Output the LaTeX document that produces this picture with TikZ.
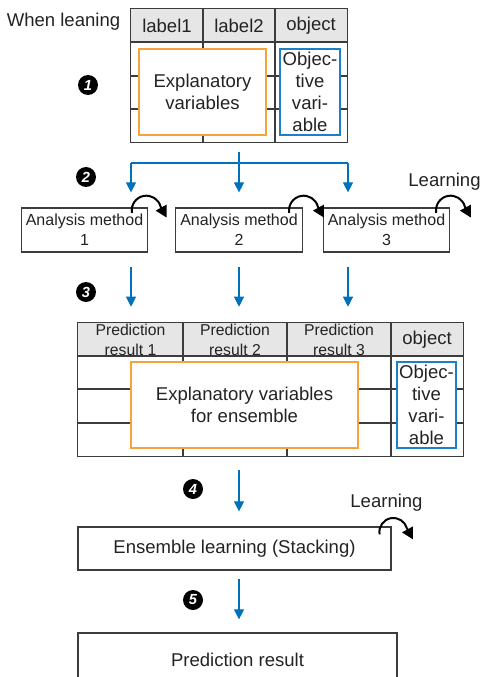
\documentclass[tikz,border=0pt]{standalone}
\usepackage{fontspec}
\setmainfont{Liberation Sans}
\usepackage{tikz}
\usetikzlibrary{arrows.meta, positioning, calc}
\definecolor{flowblue}{RGB}{0,114,188}
\definecolor{exporange}{RGB}{247,163,58}
\definecolor{objblue}{RGB}{28,128,200}
\definecolor{hdrgray}{RGB}{230,230,230}
\definecolor{linegray}{RGB}{60,60,60}
\definecolor{txtdark}{RGB}{35,35,35}
\tikzset{
  cell/.style={draw=linegray, line width=0.9pt},
  hdrtext/.style={font=\fontsize{13.9}{16.3}\selectfont, text=txtdark, inner sep=0pt},
  predtext/.style={font=\fontsize{11.8}{15}\selectfont, text=txtdark,
    align=center, inner sep=0pt},
  expbox/.style={rectangle, draw=exporange, fill=white, line width=1.1pt,
    align=center, font=\fontsize{13.9}{16.3}\selectfont, text=txtdark},
  objbox/.style={rectangle, draw=objblue, fill=white, line width=0.9pt,
    align=center, inner sep=0pt, font=\fontsize{13.9}{16.5}\selectfont, text=txtdark},
  method/.style={rectangle, draw=linegray, fill=white, line width=0.9pt,
    align=center, minimum width=94.5pt, minimum height=33pt,
    font=\fontsize{12}{15}\selectfont, text=txtdark},
  widebox/.style={rectangle, draw=linegray, line width=0.9pt, align=center,
    font=\fontsize{13.9}{16.3}\selectfont, text=txtdark},
  stepnum/.style={circle, fill=black, text=white, inner sep=0pt,
    minimum size=15pt, font=\fontsize{11}{11}\selectfont\bfseries\itshape},
  sidetext/.style={font=\fontsize{13.9}{16.3}\selectfont, text=txtdark, inner sep=0pt},
  flow/.style={-{Triangle[length=7.5pt, width=7.5pt]}, color=flowblue, line width=0.8pt},
  flowline/.style={color=flowblue, line width=0.8pt},
  learn/.style={-{Triangle[length=8.5pt, width=9pt]}, line width=1.5pt, color=black}
}

\begin{document}
\begin{tikzpicture}[x=0.75pt, y=-0.75pt]
  \useasboundingbox (0,0) rectangle (480,677);

  % Table for learning
  \node[minimum width=162pt, minimum height=99.75pt, inner sep=0pt] (t1) at (239,75.5) {};
  \fill[hdrgray] (t1.north west) rectangle (347,42);
  \draw[cell] (131,42) -- (347,42);
  \draw[cell] (131,76) -- (347,76);
  \draw[cell] (131,109) -- (347,109);
  \draw[cell] (203,9) -- (203,142);
  \draw[cell] (275,9) -- (275,142);
  \draw[cell] (t1.north west) rectangle (t1.south east);
  \node[sidetext, anchor=base] (wl) at (63.5,27) {When leaning};
  \node[hdrtext] (h1) at (167,25.5) {label1};
  \node[hdrtext] (h2) at (239,25.5) {label2};
  \node[hdrtext] (h3) at (311,25.5) {object};
  \node[expbox, minimum width=95.25pt, minimum height=64.5pt] (ev) at (202.5,92) {Explanatory\\variables};
  \node[objbox, minimum width=45pt, minimum height=64.5pt] (ov) at (310,92) {Objec-\\tive\\vari-\\able};
  \node[stepnum] (s1) at (88,85) {1};

  % Analysis methods
  \node[method] (a2) at (239,230) {Analysis method\\2};
  \node[method, left=20.25pt of a2] (a1) {Analysis method\\1};
  \node[method, right=15pt of a2] (a3) {Analysis method\\3};
  \node[stepnum] (s2) at (86,177) {2};
  \coordinate (sl) at (131,163);
  \coordinate (sr) at (348,163);
  \draw[flow, shorten <=7.5pt, shorten >=11.25pt] (t1.south) -- (a2.north);
  \draw[flowline] (sl) -- (sr);
  \draw[flow, shorten >=11.25pt] (sl) -- (sl |- a1.north);
  \draw[flow, shorten >=11.25pt] (sr) -- (sr |- a3.north);
  \draw[learn] ($(a1.north east)+(-16.3,5.5)$) arc[start angle=190, end angle=15, radius=11pt] -- ++(6,11);
  \draw[learn] ($(a2.north east)+(-13.5,5.5)$) arc[start angle=190, end angle=15, radius=11pt] -- ++(6,11);
  \draw[learn] ($(a3.north east)+(-14,5.5)$) arc[start angle=190, end angle=15, radius=11pt] -- ++(6,11);
  \node[sidetext, anchor=base] (l1) at (444.5,187) {Learning};

  % Table for ensemble
  \node[minimum width=288.75pt, minimum height=99.75pt, inner sep=0pt] (t2) at (270.5,389.5) {};
  \draw[flow, shorten <=10.5pt, shorten >=12pt] (sl |- a1.south) -- (sl |- t2.north);
  \draw[flow, shorten <=10.5pt, shorten >=12pt] (a2.south) -- (a2.south |- t2.north);
  \draw[flow, shorten <=10.5pt, shorten >=12pt] (sr |- a3.south) -- (sr |- t2.north);
  \node[stepnum] (s3) at (86,292) {3};
  \fill[hdrgray] (t2.north west) rectangle (463,356);
  \draw[cell] (78,356) -- (463,356);
  \draw[cell] (78,389) -- (463,389);
  \draw[cell] (78,423) -- (463,423);
  \draw[cell] (183,323) -- (183,456);
  \draw[cell] (287,323) -- (287,456);
  \draw[cell] (391,323) -- (391,456);
  \draw[cell] (t2.north west) rectangle (t2.south east);
  \node[predtext] (p1h) at (130.5,339.5) {Prediction\\result 1};
  \node[predtext] (p2h) at (235,339.5) {Prediction\\result 2};
  \node[predtext] (p3h) at (339,339.5) {Prediction\\result 3};
  \node[hdrtext] (obh) at (427,339.5) {object};
  \node[expbox, minimum width=170.25pt, minimum height=64.5pt] (ee) at (244.5,405) {Explanatory variables\\for ensemble};
  \node[objbox, minimum width=44.25pt, minimum height=64.5pt] (oe) at (426.5,405) {Objec-\\tive\\vari-\\able};

  % Ensemble learning
  \node[widebox, minimum width=234.75pt, minimum height=32.25pt] (e1) at (234.5,548.5) {Ensemble learning (Stacking)};
  \coordinate (mid) at (239,500);
  \draw[flow, shorten <=10.5pt, shorten >=11.25pt] (t2.south -| mid) -- (e1.north -| mid);
  \node[stepnum] (s4) at (193,489) {4};
  \draw[learn] ($(e1.north east)+(-12,8)$) arc[start angle=190, end angle=15, radius=10.5pt] -- ++(6,11);
  \node[sidetext, anchor=base] (l2) at (386.5,507) {Learning};

  % Prediction result
  \node[widebox, minimum width=239.25pt, minimum height=40.5pt] (pr) at (237.5,660) {Prediction result};
  \draw[flow, shorten <=6pt, shorten >=9.75pt] (e1.south -| mid) -- (pr.north -| mid);
  \node[stepnum] (s5) at (193,600) {5};
\end{tikzpicture}
\end{document}
